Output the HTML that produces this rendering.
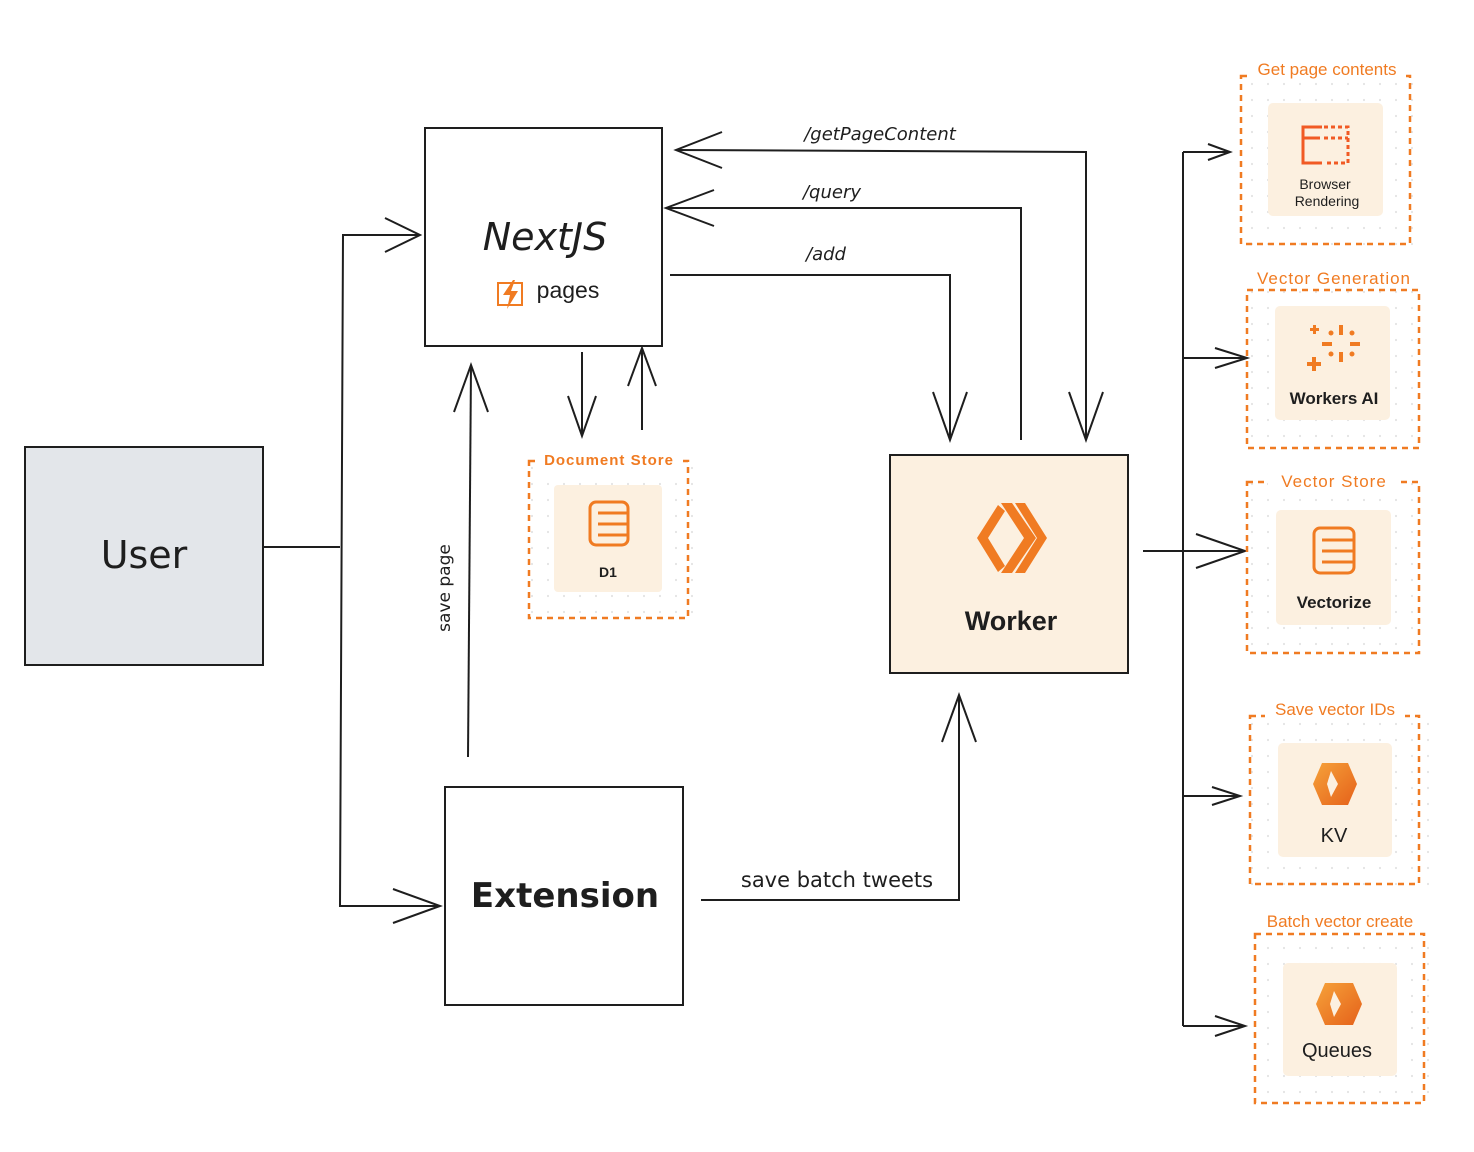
<!DOCTYPE html>
<html><head><meta charset="utf-8"><style>
html,body{margin:0;padding:0;background:#fff;}
svg{display:block;}
.hand{font-family:"DejaVu Sans","Liberation Sans",sans-serif;}
.sans{font-family:"Liberation Sans",sans-serif;}
</style></head><body>
<svg width="1474" height="1152" viewBox="0 0 1474 1152" xmlns="http://www.w3.org/2000/svg">
<defs>
<pattern id="dots" width="16" height="16" patternUnits="userSpaceOnUse"><circle cx="4" cy="4" r="1.1" fill="#e3e3e3"/></pattern>
<linearGradient id="og" x1="0" y1="0" x2="1" y2="1"><stop offset="0" stop-color="#f6a23a"/><stop offset="1" stop-color="#e5611a"/></linearGradient>
</defs>
<g fill="none" stroke="#1e1e1e" stroke-width="2">
<rect x="25" y="447" width="238" height="218" fill="#e3e6ea"/>
<rect x="425" y="128" width="237" height="218" fill="#fff"/>
<rect x="445" y="787" width="238" height="218" fill="#fff"/>
<rect x="890" y="455" width="238" height="218" fill="#fcf0e0"/>
<polyline points="263,547 340,547"/>
<polyline points="420,235 343,235 340,906 440,906"/>
<polyline points="385,218 420,235 385,252"/>
<polyline points="393,889 440,906 393,923"/>
<polyline points="676,150 1086,152 1086,440"/>
<polyline points="722,132 676,150 722,168"/>
<polyline points="1069,392 1086,440 1103,392"/>
<polyline points="666,208 1021,208 1021,440"/>
<polyline points="714,190 666,208 714,226"/>
<polyline points="670,275 950,275 950,440"/>
<polyline points="933,392 950,440 967,392"/>
<polyline points="582,352 582,436"/>
<polyline points="568,396 582,436 596,396"/>
<polyline points="642,430 642,348"/>
<polyline points="628,386 642,348 656,386"/>
<polyline points="468,757 471,365"/>
<polyline points="454,412 471,365 488,412"/>
<polyline points="701,900 959,900 959,695"/>
<polyline points="942,742 959,695 976,742"/>
<polyline points="1143,551 1245,551"/>
<polyline points="1196,534 1245,551 1196,568"/>
<polyline points="1183,152 1183,1026"/>
<polyline points="1183,152 1230,152"/><polyline points="1208,144 1230,152 1208,160"/>
<polyline points="1183,358 1247,358"/><polyline points="1215,348 1247,358 1215,368"/>
<polyline points="1183,796 1240,796"/><polyline points="1212,787 1240,796 1212,805"/>
<polyline points="1183,1026 1245,1026"/><polyline points="1215,1016 1245,1026 1215,1036"/>
</g>
<text x="144" y="568" class="hand" font-size="38" text-anchor="middle" fill="#1e1e1e">User</text>
<text x="545" y="250" class="hand" font-size="38" font-style="italic" text-anchor="middle" fill="#1e1e1e">NextJS</text>
<text x="565" y="907" class="hand" font-size="34" text-anchor="middle" fill="#1e1e1e" font-weight="bold">Extension</text>
<text x="568" y="298" class="sans" font-size="23" text-anchor="middle" fill="#1e1e1e">pages</text>
<g transform="translate(498,280)"><rect x="0" y="3" width="24" height="22" fill="none" stroke="#f07b22" stroke-width="2"/><polygon points="15,0 5,15 12,15 9,29 20,11 13,11 17,0" fill="#f07b22"/></g>
<text x="880" y="140" class="hand" font-size="18" font-style="italic" text-anchor="middle" fill="#1e1e1e">/getPageContent</text>
<text x="832" y="198" class="hand" font-size="18" font-style="italic" text-anchor="middle" fill="#1e1e1e">/query</text>
<text x="826" y="260" class="hand" font-size="18" font-style="italic" text-anchor="middle" fill="#1e1e1e">/add</text>
<text x="837" y="887" class="hand" font-size="21" text-anchor="middle" fill="#1e1e1e">save batch tweets</text>
<text transform="translate(450,588) rotate(-90)" class="hand" font-size="17" text-anchor="middle" fill="#1e1e1e">save page</text>
<g fill="#f07b22"><polygon points="998,505 977,538 998,572 1005,566 988,538 1005,511"/><polygon points="1001,503 1012,503 1036,538 1012,573 1001,573 1024,538"/><polygon points="1015,503 1025,503 1047,538 1025,573 1015,573 1037,538"/></g>
<text x="1011" y="630" class="sans" font-size="27" font-weight="bold" text-anchor="middle" fill="#1e1e1e">Worker</text>
<rect x="529" y="461" width="175" height="160" fill="url(#dots)"/>
<rect x="529" y="461" width="159" height="157" fill="none" stroke="#f07b22" stroke-width="2.5" stroke-dasharray="6,5"/>
<rect x="538" y="450" width="144" height="20" fill="#fff"/>
<text x="609" y="465" class="sans" font-size="15" font-weight="bold" text-anchor="middle" fill="#f07b22" letter-spacing="1">Document Store</text>
<rect x="554" y="485" width="108" height="107" rx="4" fill="#fcf0e0"/>
<g fill="none" stroke="#f07b22" stroke-width="3"><rect x="590" y="502" width="38" height="43" rx="6"/><line x1="598" y1="513" x2="628" y2="513"/><line x1="598" y1="524" x2="628" y2="524"/><line x1="598" y1="535" x2="628" y2="535"/></g>
<text x="608" y="577" class="sans" font-size="14" font-weight="bold" text-anchor="middle" fill="#1e1e1e">D1</text>
<g>
<rect x="1241" y="76" width="185" height="172" fill="url(#dots)"/>
<rect x="1241" y="76" width="169" height="168" fill="none" stroke="#f07b22" stroke-width="2.5" stroke-dasharray="6,5"/>
<rect x="1250" y="58" width="155" height="22" fill="#fff"/>
<text x="1327" y="75" class="sans" font-size="17" text-anchor="middle" fill="#f07b22">Get page contents</text>
<rect x="1268" y="103" width="115" height="113" rx="5" fill="#fcf0e0"/>
<g fill="none" stroke="#f15a24" stroke-width="3"><path d="M1322,127 H1303 V163 H1322"/><path d="M1324,127 H1348 V163 H1324" stroke-dasharray="4,3"/><line x1="1303" y1="138" x2="1320" y2="138"/><line x1="1324" y1="138" x2="1348" y2="138" stroke-dasharray="4,3"/></g>
<text x="1325" y="189" class="sans" font-size="14" text-anchor="middle" fill="#1e1e1e">Browser</text>
<text x="1327" y="206" class="sans" font-size="14" text-anchor="middle" fill="#1e1e1e">Rendering</text>
</g>
<g>
<rect x="1247" y="290" width="180" height="160" fill="url(#dots)"/>
<rect x="1247" y="290" width="172" height="158" fill="none" stroke="#f07b22" stroke-width="2.5" stroke-dasharray="6,5"/>
<rect x="1246" y="266" width="180" height="22" fill="#fff"/>
<text x="1334" y="284" class="sans" font-size="17" text-anchor="middle" fill="#f07b22" letter-spacing="1">Vector Generation</text>
<rect x="1275" y="306" width="115" height="114" rx="5" fill="#fcf0e0"/>
<g fill="#f07b22"><rect x="1310" y="328" width="9" height="3"/><rect x="1313" y="325" width="3" height="9"/><rect x="1307" y="362" width="14" height="4"/><rect x="1312" y="357" width="4" height="14"/><rect x="1339" y="325" width="4" height="10"/><rect x="1339" y="352" width="4" height="10"/><rect x="1322" y="342" width="10" height="4"/><rect x="1350" y="342" width="10" height="4"/><circle cx="1331" cy="333" r="2.5"/><circle cx="1352" cy="333" r="2.5"/><circle cx="1331" cy="354" r="2.5"/><circle cx="1352" cy="354" r="2.5"/></g>
<text x="1334" y="404" class="sans" font-size="17" font-weight="bold" text-anchor="middle" fill="#1e1e1e">Workers AI</text>
</g>
<g>
<rect x="1247" y="482" width="180" height="172" fill="url(#dots)"/>
<rect x="1247" y="482" width="172" height="171" fill="none" stroke="#f07b22" stroke-width="2.5" stroke-dasharray="6,5"/>
<rect x="1268" y="470" width="130" height="22" fill="#fff"/>
<text x="1334" y="487" class="sans" font-size="17" text-anchor="middle" fill="#f07b22" letter-spacing="1">Vector Store</text>
<rect x="1276" y="510" width="115" height="115" rx="5" fill="#fcf0e0"/>
<g fill="none" stroke="#f07b22" stroke-width="3"><rect x="1314" y="528" width="40" height="45" rx="6"/><line x1="1322" y1="540" x2="1354" y2="540"/><line x1="1322" y1="551" x2="1354" y2="551"/><line x1="1322" y1="562" x2="1354" y2="562"/></g>
<text x="1334" y="608" class="sans" font-size="17" font-weight="bold" text-anchor="middle" fill="#1e1e1e">Vectorize</text>
</g>
<g>
<rect x="1250" y="716" width="185" height="172" fill="url(#dots)"/>
<rect x="1250" y="716" width="169" height="168" fill="none" stroke="#f07b22" stroke-width="2.5" stroke-dasharray="6,5"/>
<rect x="1265" y="697" width="140" height="22" fill="#fff"/>
<text x="1335" y="715" class="sans" font-size="17" text-anchor="middle" fill="#f07b22">Save vector IDs</text>
<rect x="1278" y="743" width="114" height="114" rx="5" fill="#fcf0e0"/>
<polygon points="1322,763 1348,763 1357,784 1348,805 1322,805 1313,784" fill="url(#og)"/>
<polygon points="1331,771 1338,784 1331,797 1327,784" fill="#fcf0e0"/>
<text x="1334" y="842" class="sans" font-size="20" text-anchor="middle" fill="#1e1e1e">KV</text>
</g>
<g>
<rect x="1255" y="934" width="185" height="172" fill="url(#dots)"/>
<rect x="1255" y="934" width="169" height="169" fill="none" stroke="#f07b22" stroke-width="2.5" stroke-dasharray="6,5"/>
<rect x="1258" y="909" width="165" height="22" fill="#fff"/>
<text x="1340" y="927" class="sans" font-size="17" text-anchor="middle" fill="#f07b22">Batch vector create</text>
<rect x="1283" y="963" width="114" height="113" rx="5" fill="#fcf0e0"/>
<polygon points="1325,983 1353,983 1362,1004 1353,1025 1325,1025 1316,1004" fill="url(#og)"/>
<polygon points="1334,991 1341,1004 1334,1017 1330,1004" fill="#fcf0e0"/>
<text x="1337" y="1057" class="sans" font-size="20" text-anchor="middle" fill="#1e1e1e">Queues</text>
</g>
</svg>
</body></html>
